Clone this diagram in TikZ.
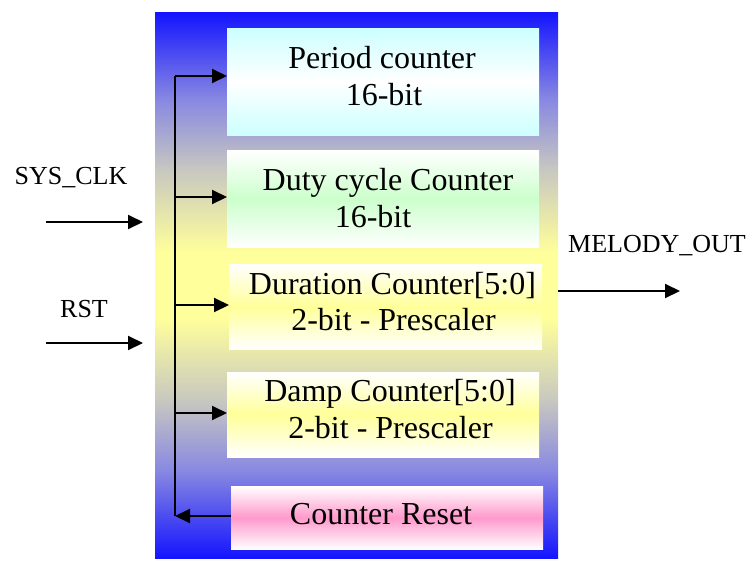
\documentclass[tikz,border=0pt]{standalone}
\usepackage{fontspec}
\setmainfont{Liberation Serif}
\usetikzlibrary{arrows.meta}
\definecolor{oblue}{RGB}{20,20,255}
\definecolor{olav}{RGB}{136,136,226}
\definecolor{ogray}{RGB}{200,200,192}
\definecolor{oyel}{RGB}{255,255,155}
\definecolor{ccyan}{RGB}{204,255,255}
\definecolor{cgreen}{RGB}{204,255,204}
\definecolor{cyel}{RGB}{255,255,153}
\definecolor{cpink}{RGB}{255,153,204}
\pgfdeclareverticalshading{outershade}{100bp}{color(0bp)=(oblue); color(25bp)=(oblue); color(33bp)=(olav); color(39.5bp)=(ogray); color(47bp)=(oyel); color(53bp)=(oyel); color(60.5bp)=(ogray); color(67bp)=(olav); color(75bp)=(oblue); color(100bp)=(oblue)}
\tikzset{
  box/.style={inner sep=0pt, anchor=north west, draw=none},
  txt/.style={font=\fontsize{32}{37}\selectfont, anchor=base, inner sep=0pt},
  lbl/.style={font=\fontsize{26}{30}\selectfont, anchor=base, inner sep=0pt},
  wire/.style={line width=2pt},
  arr/.style={line width=2pt, -{Triangle[length=15pt,width=14pt]}}
}
\begin{document}
\begin{tikzpicture}[x=1pt,y=-1pt]
\useasboundingbox (0,0) rectangle (750,560);
\node[box, shading=outershade, minimum width=403pt, minimum height=546pt] (outer) at (155,12) {};
\node[box, minimum width=312pt, minimum height=107pt, top color=ccyan, bottom color=ccyan, middle color=white] (b1) at (227,28) {};
\node[box, minimum width=312pt, minimum height=97pt, top color=white, bottom color=white, middle color=cgreen] (b2) at (227,150) {};
\node[box, minimum width=313pt, minimum height=85pt, top color=white, bottom color=white, middle color=cyel] (b3) at (229,264) {};
\node[box, minimum width=312pt, minimum height=85pt, top color=white, bottom color=white, middle color=cyel] (b4) at (227,372) {};
\node[box, minimum width=312pt, minimum height=63pt, top color=white, bottom color=white, middle color=cpink] (b5) at (231,486) {};

\node[txt] (t1a) at (382,68) {Period counter};
\node[txt] (t1b) at (384,105) {16-bit};
\node[txt] (t2a) at (388,190) {Duty cycle Counter};
\node[txt] (t2b) at (373,227) {16-bit};
\node[txt] (t3a) at (392.5,294) {Duration Counter[5:0]};
\node[txt] (t3b) at (393.5,330) {2-bit - Prescaler};
\node[txt] (t4a) at (390,401) {Damp Counter[5:0]};
\node[txt] (t4b) at (390.5,438) {2-bit - Prescaler};
\node[txt] (t5) at (381,524) {Counter Reset};

\node[lbl] (lclk) at (71,184) {SYS\_CLK};
\node[lbl] (lrst) at (84,317) {RST};
\node[lbl] (lmel) at (657,252) {MELODY\_OUT};

\coordinate (bt) at (175,76);
\coordinate (j2) at (175,197);
\coordinate (j3) at (175,305);
\coordinate (j4) at (175,413);
\coordinate (bb) at (175,516);
\draw[wire] (bt) -- (bb);
\draw[arr] (bt) -- (bt -| b1.west);
\draw[arr] (j2) -- (j2 -| b2.west);
\draw[arr] (j3) -- (j3 -| b3.west);
\draw[arr] (j4) -- (j4 -| b4.west);
\draw[arr] (bb -| b5.west) -- (bb);

\coordinate (ck0) at (46,222);
\coordinate (ck1) at (143,222);
\coordinate (rs0) at (46,343);
\coordinate (rs1) at (143,343);
\coordinate (mo1) at (680,291);
\draw[arr] (ck0) -- (ck1);
\draw[arr] (rs0) -- (rs1);
\draw[arr] (outer.east |- mo1) -- (mo1);
\end{tikzpicture}
\end{document}
